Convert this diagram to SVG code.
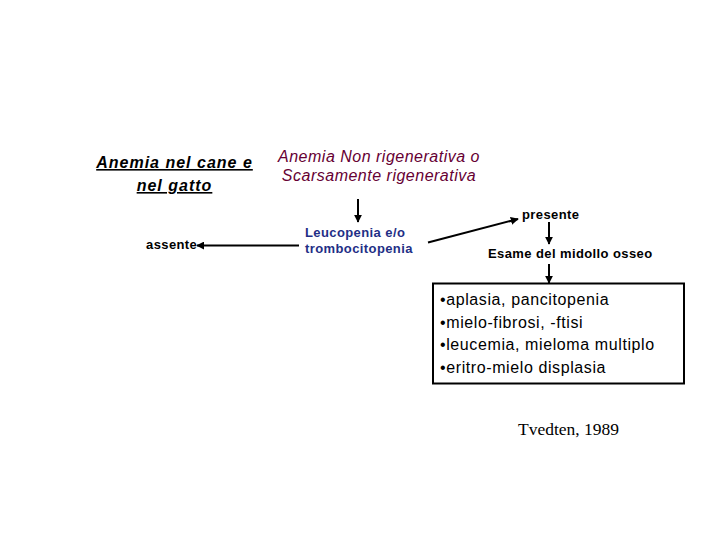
<svg xmlns="http://www.w3.org/2000/svg" width="720" height="540" viewBox="0 0 720 540">
<style>
.t{font-family:"Liberation Sans",Arial,sans-serif}
.title{font-size:16px;font-weight:bold;font-style:italic;letter-spacing:1px;text-decoration:underline;fill:#000}
.sub{font-size:16px;font-style:italic;letter-spacing:0.5px;fill:#660033}
.lab{font-size:13px;font-weight:bold;letter-spacing:0.4px;fill:#000}
.blue{fill:#1f2f86}
.list{font-size:16px;letter-spacing:0.6px;fill:#000}
.ref{font-family:"Liberation Serif","Times New Roman",serif;font-size:17.5px;fill:#000}
.ln{stroke:#000;stroke-width:2;fill:none;marker-end:url(#ah)}
</style>
<defs>
<marker id="ah" viewBox="0 0 10 10" refX="9" refY="5" markerWidth="4" markerHeight="4" orient="auto" markerUnits="strokeWidth">
<path d="M0,0 L10,5 L0,10 z" fill="#000"/>
</marker>
</defs>
<rect width="720" height="540" fill="#fff"/>
<g id="title">
<text class="t title" x="174.5" y="168" text-anchor="middle">Anemia nel cane e</text>
<text class="t title" x="174.5" y="191" text-anchor="middle">nel gatto</text>
</g>
<g id="nonrig">
<text class="t sub" x="379" y="162" text-anchor="middle">Anemia Non rigenerativa o</text>
<text class="t sub" x="379" y="181" text-anchor="middle">Scarsamente rigenerativa</text>
</g>
<g id="leuco">
<text class="t lab blue" x="305" y="237">Leucopenia e/o</text>
<text class="t lab blue" x="305" y="253">trombocitopenia</text>
</g>
<g id="assente">
<text class="t lab" x="146" y="249">assente</text>
</g>
<g id="presente">
<text class="t lab" x="522" y="219">presente</text>
</g>
<g id="esame">
<text class="t lab" x="488" y="258">Esame del midollo osseo</text>
</g>
<g id="box">
<rect x="433" y="283.5" width="251" height="100" fill="#fff" stroke="#000" stroke-width="2"/>
<text class="t list" x="440" y="305">•aplasia, pancitopenia</text>
<text class="t list" x="440" y="328">•mielo-fibrosi, -ftisi</text>
<text class="t list" x="440" y="350">•leucemia, mieloma multiplo</text>
<text class="t list" x="440" y="373">•eritro-mielo displasia</text>
</g>
<g id="citation">
<text class="ref" x="518" y="435">Tvedten, 1989</text>
</g>
<g id="connectors">
<line class="ln" x1="358" y1="199" x2="358" y2="222"/>
<line class="ln" x1="299" y1="245.5" x2="197" y2="245.5"/>
<line class="ln" x1="428" y1="242.5" x2="518" y2="219"/>
<line class="ln" x1="549" y1="222" x2="549" y2="244"/>
<line class="ln" x1="549" y1="264" x2="549" y2="283"/>
</g>
</svg>
